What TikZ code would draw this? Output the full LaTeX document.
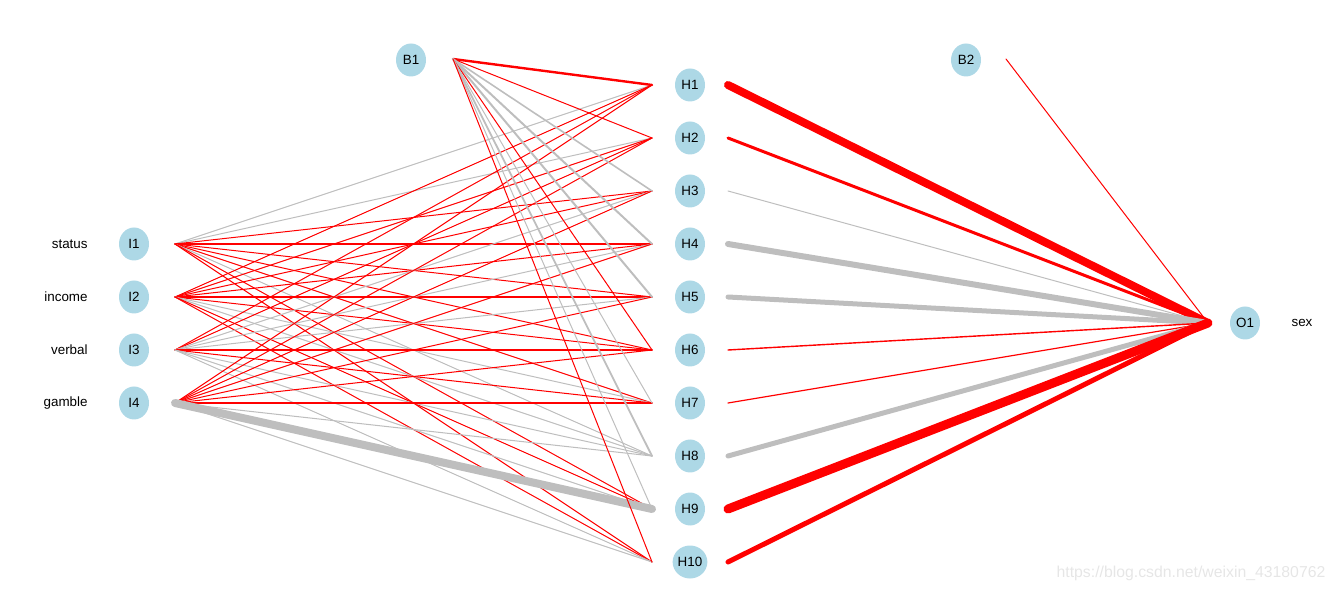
\documentclass[tikz,border=0pt]{standalone}
\usepackage{fontspec}
\setmainfont{Liberation Sans}
\usetikzlibrary{shapes.geometric}
\definecolor{nodeblue}{HTML}{ADD8E6}
\definecolor{gry}{HTML}{BEBEBE}
\definecolor{wmgray}{HTML}{E6E6E6}
\begin{document}
\begin{tikzpicture}[x=0.5pt,y=-0.5pt,line cap=round,font=\fontsize{6.7}{8}\selectfont]
	\tikzset{unit/.style={ellipse,fill=nodeblue,minimum width=15pt,minimum height=16.5pt,inner sep=0pt},
		poswt/.style={draw=red},negwt/.style={draw=gry}}
	\useasboundingbox (0,0) rectangle (1337,592);
	% input layer
	\foreach \j/\name in {1/status,2/income,3/verbal,4/gamble}{
		\node[unit] (I\j) at (134,{244+53*(\j-1)}) {I\j};
		\node[anchor=east,inner sep=0pt] (L\j) at (88,{244+53*(\j-1)}) {\name};}
	% hidden layer
	\foreach \k in {1,...,10}
		\node[unit] (H\k) at (690,{85+53*(\k-1)}) {H\k};
	\node[unit] (B1) at (411,60) {B1};
	\node[unit] (B2) at (966,60) {B2};
	\node[unit] (O1) at (1245,323) {O1};
	\node (sex) at (1302,323) {sex};
	% input -> hidden
	\foreach \j/\k/\s/\w in {1/1/negwt/.5,1/2/negwt/.5,1/3/poswt/.5,1/4/poswt/.6,1/5/poswt/.5,1/6/poswt/.5,1/7/poswt/.5,1/8/negwt/.5,1/9/poswt/.5,1/10/poswt/.5,
		2/1/poswt/.5,2/2/poswt/.5,2/3/poswt/.5,2/4/poswt/.5,2/5/poswt/.6,2/6/poswt/.5,2/7/negwt/.5,2/8/negwt/.5,2/9/poswt/.5,2/10/poswt/.5,
		3/1/poswt/.5,3/2/poswt/.5,3/3/negwt/.5,3/4/negwt/.5,3/5/negwt/.5,3/6/poswt/.6,3/7/poswt/.5,3/8/negwt/.5,3/9/negwt/.5,3/10/negwt/.5,
		4/1/poswt/.5,4/2/poswt/.5,4/3/poswt/.5,4/4/poswt/.5,4/5/poswt/.5,4/6/poswt/.5,4/7/poswt/.6,4/8/negwt/.5,4/9/negwt/4,4/10/negwt/.5}
		\draw[\s,line width=\w pt] ([xshift=20.5pt]I\j.center) -- ([xshift=-19pt]H\k.center);
	% bias 1 -> hidden
	\foreach \k/\s/\w in {1/poswt/1.2,2/poswt/.5,3/negwt/.8,4/negwt/1,5/negwt/1,6/poswt/.5,7/negwt/.5,8/negwt/.9,9/negwt/.5,10/poswt/.5}
		\draw[\s,line width=\w pt] ([xshift=21pt,yshift=.5pt]B1.center) -- ([xshift=-19pt]H\k.center);
	% hidden -> output
	\foreach \k/\s/\w in {1/poswt/4,2/poswt/1.5,3/negwt/.5,4/negwt/3,5/negwt/2.5,6/poswt/.7,7/poswt/.6,8/negwt/2.5,9/poswt/4.5,10/poswt/2.5}
		\draw[\s,line width=\w pt] ([xshift=19pt]H\k.center) -- ([xshift=-18.5pt]O1.center);
	\draw[poswt,line width=.5pt] ([xshift=20pt,yshift=.5pt]B2.center) -- ([xshift=-18.5pt]O1.center);
	\node[text=wmgray,font=\fontsize{7.9}{9}\selectfont] (wm) at (1191,573) {https://blog.csdn.net/weixin\_43180762};
\end{tikzpicture}
\end{document}
